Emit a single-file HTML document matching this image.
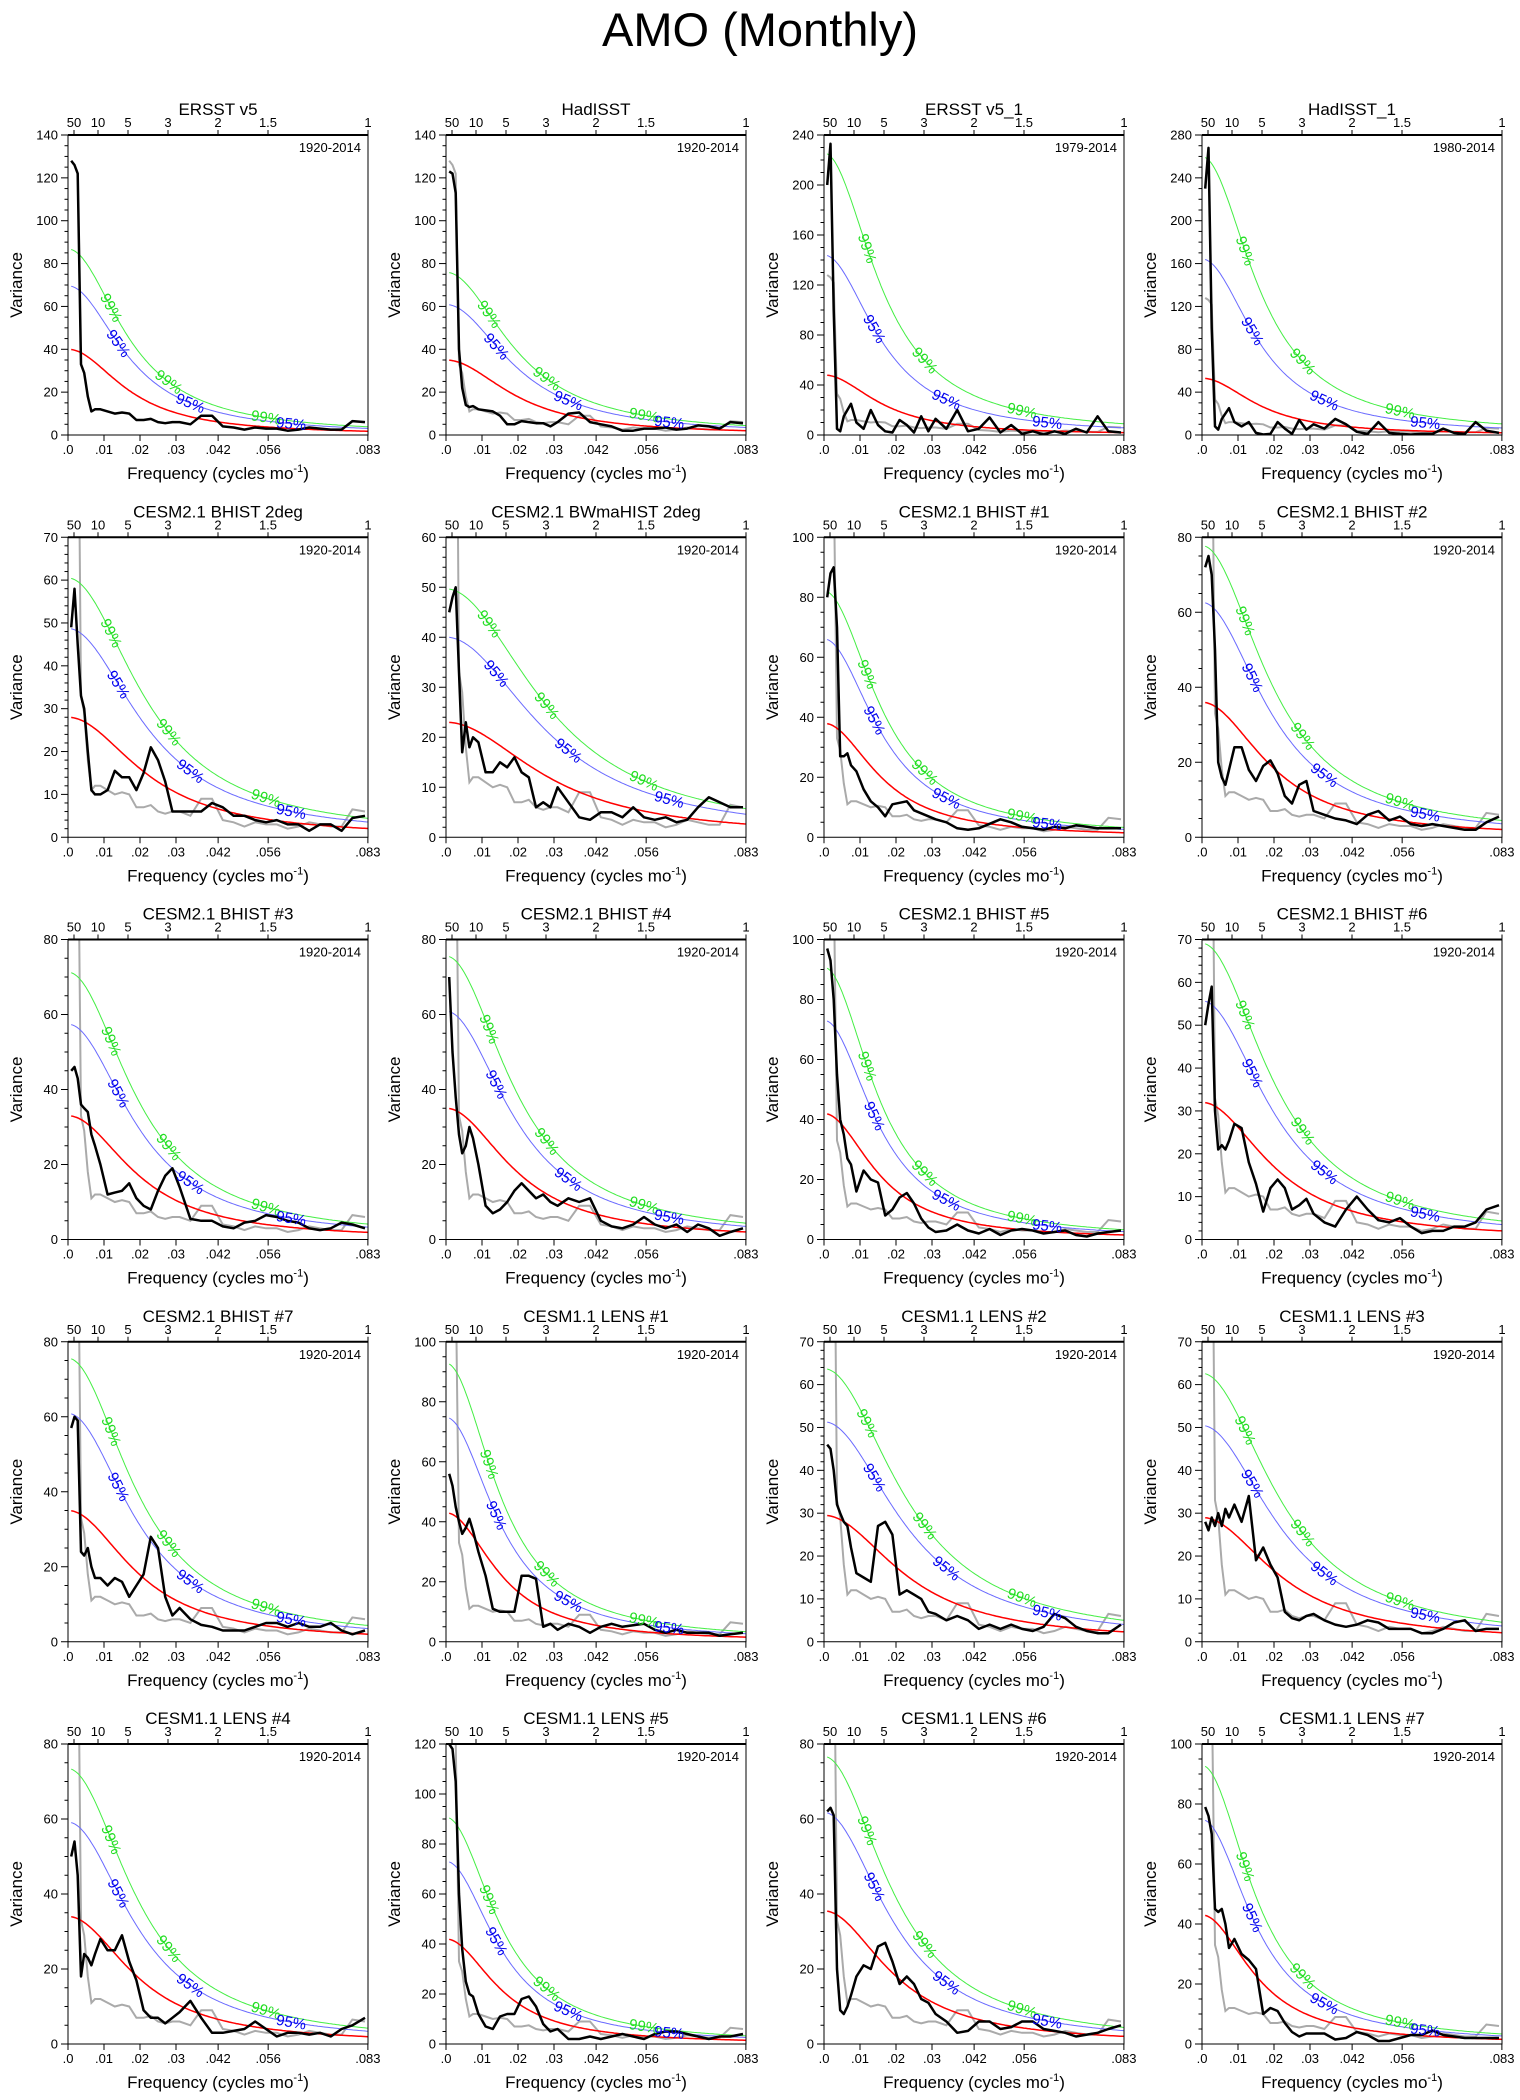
<!DOCTYPE html>
<html><head><meta charset="utf-8"><style>
html,body{margin:0;padding:0;background:#fff}
svg{display:block;font-family:"Liberation Sans",sans-serif}
</style></head><body>
<svg id="fig" width="1520" height="2100" viewBox="0 0 1520 2100" xmlns="http://www.w3.org/2000/svg">
<rect width="1520" height="2100" fill="#fff"/>
<text x="760" y="46" font-size="47" text-anchor="middle">AMO (Monthly)</text>
</svg>
<script>
// ---- data ----
const titles = ["ERSST v5","HadISST","ERSST v5_1","HadISST_1",
"CESM2.1 BHIST 2deg","CESM2.1 BWmaHIST 2deg","CESM2.1 BHIST #1","CESM2.1 BHIST #2",
"CESM2.1 BHIST #3","CESM2.1 BHIST #4","CESM2.1 BHIST #5","CESM2.1 BHIST #6",
"CESM2.1 BHIST #7","CESM1.1 LENS #1","CESM1.1 LENS #2","CESM1.1 LENS #3",
"CESM1.1 LENS #4","CESM1.1 LENS #5","CESM1.1 LENS #6","CESM1.1 LENS #7"];
const periods = ["1920-2014","1920-2014","1979-2014","1980-2014"].concat(Array(16).fill("1920-2014"));
const yMax = [140,140,240,280, 70,60,100,80, 80,80,100,70, 80,100,70,70, 80,120,80,100];
const yStep = [20,20,40,40, 10,10,20,20, 20,20,20,10, 20,20,10,10, 20,20,20,20];
const redStart = [40,35,48,53, 28,23,38,36, 33,35,42,32, 35,43,29.5,29, 34,42,35.5,43];
const redRho = [0.895,0.88,0.9,0.9, 0.865,0.83,0.9,0.88, 0.88,0.88,0.905,0.875, 0.88,0.905,0.86,0.865, 0.88,0.905,0.88,0.905];
const factor95 = [1.74,1.74,3.0,3.1].concat(Array(16).fill(1.74));
const factor99 = [2.17,2.17,4.7,4.9].concat(Array(16).fill(2.16));
const xTicks = [0,0.01,0.02,0.03,0.0417,0.0556,0.0833];
const xTickLabels = [".0",".01",".02",".03",".042",".056",".083"];
const topPeriods = [50,10,5,3,2,1.5,1];
const freqs = [0.0009,0.0018,0.0027,0.0036,0.0045,0.0055,0.0065,0.0075,0.009,0.011,0.013,0.015,0.017,0.019,0.021,0.023,0.025,0.027,0.029,0.031,0.034,0.037,0.040,0.043,0.046,0.049,0.052,0.055,0.058,0.061,0.064,0.067,0.070,0.073,0.076,0.079,0.0825];
const spectra = [
[128,126,122,33,29,18,11,12,12,11,10,10.5,10,7,7,7.5,6,5.5,6,6,5,9,9,4,3.5,2.5,3.5,3,3,2,2.5,3.5,3,2.5,2.5,6.5,6],
[123,122,113,40,22,14,13,13.5,12,11.5,11,9,5,5,6.5,6,5.5,5.5,4,6,10,10.5,6,5,4,2,2,3,3,3.5,2.5,3,4.5,4,3,6,5.5],
[200,233,100,5,3,15,20,25,10,5,20,8,3,2,12,8,2,15,3,13,5,20,3,5,14,2,8,1,3,0.5,3,1,5,2,15,3,2],
[230,268,100,8,5,15,20,25,12,8,12,2,0.5,1,12,6,1,14,5,10,6,15,10,3,1,12,2,1,0.5,1,1,6,2,1,12,4,2],
[49,58,45,33,30,20,11,10,10,11,15.5,14,14,11,15,21,18,13,6,6,6,6,8,7,5,5,4,3.5,4,3,3,1.5,3,3,1.5,4.5,5],
[45,48,50,33,17,23,18,20,19,13,13,15,14,16,13,12,6,7,6,10,7,4,3.5,5,5,4,6,4,3.5,4,3,3.5,6,8,7,6,6],
[80,88,90,70,27,27,28,24,22,16,12,10,7,11,11.5,12,9,8,7,6,5,3,2.5,3,4.5,6,5,3.5,3,2.5,3.5,3,4,3.5,3,3,3],
[72,75,70,50,20,16,14,18,24,24,18,15,19,20.5,17,11,9,14,15,7,6,5,4.5,3.5,6,7,4.5,5.5,3.5,3,3.5,3,2.5,2,2,4,5.5],
[45,46,43,36,35,34,28,25,20,12,12.5,13,15,11,9,8,13,17,19,14,5.5,5,5,3.5,3,4.5,5,6.5,6,5,4.5,3,2.5,3,4.5,4,3],
[70,50,38,28,23,25,30,27,20,9,7,8,10,13,15,13,11,12,10,9,11,10,11,5,3.5,3,4,6,4,3,4,2,4,3,1,2,3],
[97,93,80,55,40,35,27,25,16,23,20,19,8,10,14,15.5,12,7,4,2.5,3,5,3,2,3.5,1.5,3,3.5,3,2,2.5,3,1.5,1,2,2.5,3],
[50,55,59,30,21,22,21,23,27,26,18,13,6.5,12,14,12,7,8,9.5,6,4,3,7,10,7,4.5,4,5,3,1.5,2,2,3,3,4,7,8],
[57,60,59,24,23,25,20,17,17,15,17,16,12,15,18,28,25,12,7,9,6,4.5,4,3,3,3,4,5,5,4,5,4,4,5,3,2,3],
[56,52,45,40,36,38,41,37,30,22,11,10,10,10,22,22,21,5,6,4,6,5,3,5,6,5,5.5,6,4,3,4,3,3,3,2,2.5,3],
[46,45,40,32,30,28,27,22,16,15,14,27,28,25,11,12,11,10,7,6.5,5,6,5,3,4,3,4,3,2.5,3.5,6.5,5.5,3.5,2.5,2,2,4],
[28,26,29,27,30,27,31,29,32,28,34,19,22,18,15,7,5.5,5,6,6.5,5,4,3.5,4,5,4.5,3,3,3,2,2,3,4.5,5,2.5,3,3],
[50,54,45,18,24,23,21,24,28,25,25,29,22,17,9,7,7,5.5,7,8.5,11.5,7,3,3,3.5,4,6,4,2,3,3,2.5,3,2,4,5,7],
[120,118,105,60,38,25,20,19,12,7,6,11,12,12,18,19,15,8,5,6,2,2,3,2,3,4,3,2,4,5,5,4,3,2,3,3,4],
[62,63,61,20,9,8,10,13,18,21,20,26,27,22,16,18,16,12,11,8,6,3,3.5,6,6,4,4.5,6,6,4,3.5,3,2,2.5,3,4,5],
[79,76,70,45,44,45,40,32,35,30,28,25,10,12,11,7,4,2.5,3.5,3.5,3.5,1.5,2,4,3,1,1,2,3,3,4.5,3,2.5,2,2,2,2]
];
const greySeries = spectra[0];
const label99At = [0.012,0.028,0.055];
const label95At = [0.014,0.034,0.062];

// ---- drawing ----
const NS = "http://www.w3.org/2000/svg";
const svg = document.getElementById('fig');
const FMAX = 1/12, PW = 300, PH = 300;
function mk(tag, attrs, parent, txt){
  const e = document.createElementNS(NS, tag);
  for (const k in attrs) e.setAttribute(k, attrs[k]);
  if (txt !== undefined) e.textContent = txt;
  parent.appendChild(e); return e;
}
function redAt(i, f){
  const r = redRho[i];
  return redStart[i]*(1-r)*(1-r)/(1-2*r*Math.cos(2*Math.PI*f)+r*r);
}
for (let i = 0; i < 20; i++){
  const col = i % 4, row = Math.floor(i/4);
  const L = 68 + 378*col, T = 135 + 402.25*row;
  const xs = f => L + f/FMAX*PW;
  const ys = v => T + PH - v/yMax[i]*PH;
  const g = mk('g', {}, svg);
  
  
  const cp = mk('clipPath', {id:'cp'+i}, g);
  mk('rect', {x:L, y:T, width:PW, height:PH}, cp);
  // title
  const t = mk('text', {x:L+PW/2, y:T-20, 'font-size':17, 'text-anchor':'middle'}, g, titles[i]);
  
  
  const pr = mk('text', {x:L+PW-7, y:T+17, 'font-size':13, 'text-anchor':'end'}, g, periods[i]);
  
  
  // y axis ticks
  const ax = mk('g', {stroke:'#000', 'stroke-width':1}, g);
  
  
  const minorN = yStep[i] === 10 ? 5 : 4;
  for (let v = 0; v <= yMax[i] + 1e-9; v += yStep[i]/minorN){
    const major = Math.abs(v/yStep[i] - Math.round(v/yStep[i])) < 1e-6;
    mk('line', {x1:L, x2:L-(major?7:3.5), y1:ys(v), y2:ys(v)}, ax);
  }
  for (let v = 0; v <= yMax[i] + 1e-9; v += yStep[i]){
    const yl = mk('text', {x:L-10, y:ys(v)+4.5, 'font-size':13, 'text-anchor':'end', stroke:'none'}, g, String(v));
    
    
  }
  // x ticks
  xTicks.forEach((f, k) => {
    mk('line', {x1:xs(f), x2:xs(f), y1:T+PH, y2:T+PH+6, stroke:'#000'}, g);
    const xl = mk('text', {x:xs(f), y:T+PH+19, 'font-size':13, 'text-anchor':'middle'}, g, xTickLabels[k]);
    
    
  });
  topPeriods.forEach(p => {
    const f = 1/(12*p);
    mk('line', {x1:xs(f), x2:xs(f), y1:T, y2:T-5, stroke:'#000'}, g);
    const tl = mk('text', {x:xs(f), y:T-8, 'font-size':13, 'text-anchor':'middle'}, g, String(p));
    
    
  });
  const xt = mk('text', {x:L+PW/2, y:T+PH+44, 'font-size':17, 'text-anchor':'middle'}, g);
  
  
  xt.innerHTML = 'Frequency (cycles mo<tspan font-size="11" dy="-7">-1</tspan><tspan dy="7">)</tspan>';
  const yt = mk('text', {x:0, y:0, 'font-size':17, 'text-anchor':'middle', transform:`translate(${L-46},${T+PH/2}) rotate(-90)`}, g, 'Variance');
  
  
  // curves
  const cg = mk('g', {'clip-path':`url(#cp${i})`, fill:'none'}, g);
  const curve = (mult) => {
    let d = '';
    for (let s = 0; s <= 160; s++){
      const f = 0.0009 + (FMAX-0.0009)*s/160;
      d += (s ? 'L' : 'M') + xs(f).toFixed(1) + ',' + ys(redAt(i,f)*mult).toFixed(1);
    }
    return d;
  };
  if (i > 0){
    const gp = mk('path', {d: freqs.map((f,k)=>(k?'L':'M')+xs(f).toFixed(1)+','+ys(greySeries[k]).toFixed(1)).join(''), stroke:'#aaaaaa', 'stroke-width':2}, cg);
    
    
  }
  const gr = mk('path', {d:curve(factor99[i]), stroke:'#44ee44', 'stroke-width':1}, cg);
  
  
  const bl = mk('path', {d:curve(factor95[i]), stroke:'#6a6aff', 'stroke-width':1}, cg);
  
  
  const rd = mk('path', {d:curve(1), stroke:'#ff0000', 'stroke-width':1.5}, cg);
  
  
  const bk = mk('path', {d: freqs.map((f,k)=>(k?'L':'M')+xs(f).toFixed(1)+','+ys(spectra[i][k]).toFixed(1)).join(''), stroke:'#000', 'stroke-width':2.5, 'stroke-linejoin':'round'}, cg);
  
  
  // curve labels
  const lab = (fs, mult, txt, color, nm) => {
    fs.forEach(f => {
      const x1 = xs(f-0.0008), x2 = xs(f+0.0008);
      const y1 = ys(redAt(i,f-0.0008)*mult), y2 = ys(redAt(i,f+0.0008)*mult);
      const ang = Math.atan2(y2-y1, x2-x1)*180/Math.PI;
      const cx = xs(f), cy = ys(redAt(i,f)*mult);
      const tx = mk('text', {x:0, y:5, 'font-size':15, 'text-anchor':'middle', fill:color, transform:`translate(${cx.toFixed(1)},${cy.toFixed(1)}) rotate(${ang.toFixed(1)})`}, g, txt);
      
      
    });
  };
  lab(label99At, factor99[i], '99%', '#22dd22', 'label-99');
  lab(label95At, factor95[i], '95%', '#0000ee', 'label-95');
  // frame
  const fr = mk('rect', {x:L, y:T, width:PW, height:PH, fill:'none', stroke:'#000', 'stroke-width':1}, g);
  
  
  mk('line', {x1:L, x2:L+PW, y1:T, y2:T, stroke:'#000', 'stroke-width':2}, g);
}
</script>
</body></html>
